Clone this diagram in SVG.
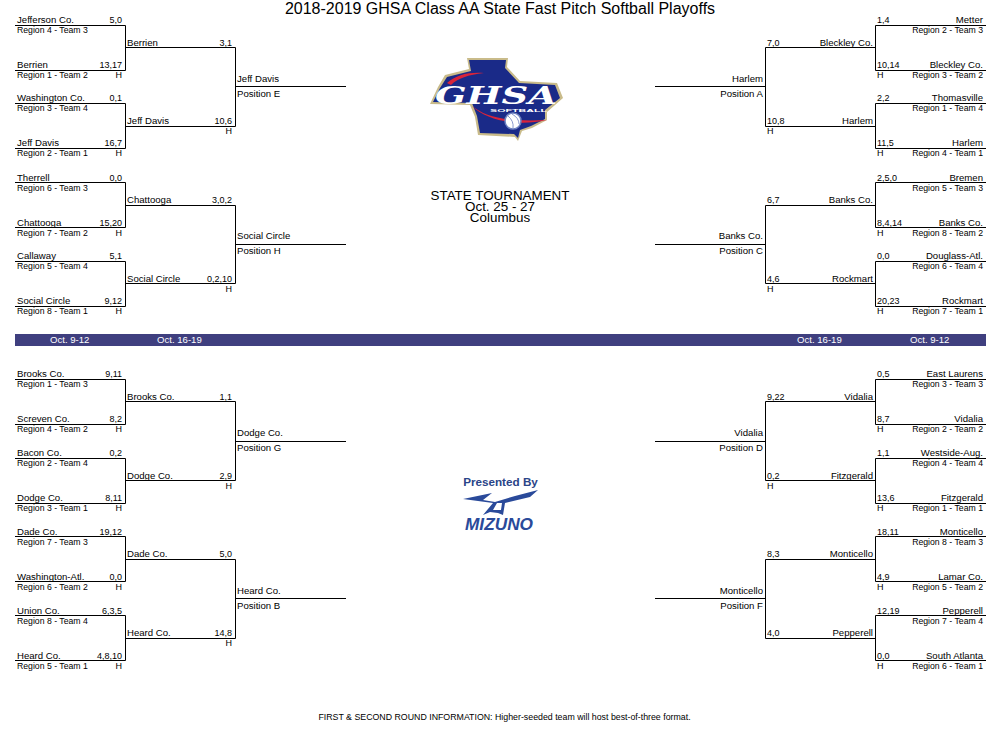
<svg xmlns="http://www.w3.org/2000/svg" width="1000" height="750" viewBox="0 0 1000 750">
<style>
text{font-family:"Liberation Sans",Arial,sans-serif;font-size:9.6px;fill:#000}
.e{text-anchor:end}
.c{text-anchor:middle}
.w{fill:#fff}
.s{font-size:13.4px}
.g{font-size:8.7px}
.v{font-size:9px}
.l{fill:none;stroke:#000;stroke-width:1}
</style>
<rect width="1000" height="750" fill="#fff"/>
<text id="title" x="500" y="14" class="c" style="font-size:16px">2018-2019 GHSA Class AA State Fast Pitch Softball Playoffs</text>
<g id="connectors">
<path class="l" d="M15 25.5H125.5V70.5H15M15 103.5H125.5V148.5H15M125.5 47.5H235.5V126.5H125.5M235.5 86.5H346"/>
<path class="l" d="M15 182.5H125.5V227.5H15M15 261.5H125.5V306.5H15M125.5 205.5H235.5V283.5H125.5M235.5 244.5H346"/>
<path class="l" d="M15 379.5H125.5V424.5H15M15 458.5H125.5V503.5H15M125.5 401.5H235.5V480.5H125.5M235.5 441.5H346"/>
<path class="l" d="M15 536.5H125.5V581.5H15M15 615.5H125.5V660.5H15M125.5 559.5H235.5V638.5H125.5M235.5 598.5H346"/>
<path class="l" d="M986 25.5H875.5V70.5H986M986 103.5H875.5V148.5H986M875.5 47.5H765.5V126.5H875.5M765.5 86.5H655"/>
<path class="l" d="M986 182.5H875.5V227.5H986M986 261.5H875.5V306.5H986M875.5 205.5H765.5V283.5H875.5M765.5 244.5H655"/>
<path class="l" d="M986 379.5H875.5V424.5H986M986 458.5H875.5V503.5H986M875.5 401.5H765.5V480.5H875.5M765.5 441.5H655"/>
<path class="l" d="M986 536.5H875.5V581.5H986M986 615.5H875.5V660.5H986M875.5 559.5H765.5V638.5H875.5M765.5 598.5H655"/>
</g>
<g id="band"><rect x="15" y="334" width="971" height="12" fill="#3f3f7f"/>
<text x="50" y="343" class="w">Oct. 9-12</text><text x="157" y="343" class="w">Oct. 16-19</text><text x="797" y="343" class="w">Oct. 16-19</text><text x="910" y="343" class="w">Oct. 9-12</text></g>
<g id="logo-ghsa">
<polygon points="467,58 508,58 507,67 520,81 557,83 563,98 547,112 547,120 532,128 522,131 518,141 515,137 478,135 475,117 470,105 430,104 438,87 445,75 469,69" fill="#c9bb8a"/>
<polygon points="469,60 506,60 505,68 519,83 555,85 560,98 545,110 545,119 531,126 520,130 518,138 514,134 480,133 477,116 472,103 433,102 440,88 447,77 471,71" fill="#1a2a88"/>
<path d="M447 83C456 75 468 72 484 73C468 75 458 78 451 85Z" fill="#d8243a"/>
<path d="M472 106C486 117 505 122 547 120C520 126 488 122 472 106Z" fill="#d8243a"/>
<text x="435" y="104" textLength="122" lengthAdjust="spacingAndGlyphs" style="font-family:'DejaVu Serif',serif;font-size:24px;font-weight:bold;font-style:italic;fill:#fff">GHSA</text>
<text x="490" y="111.500" textLength="57" lengthAdjust="spacingAndGlyphs" style="font-size:4px;font-weight:bold;fill:#fff">SOFTBALL</text>
<circle cx="513" cy="121" r="8" fill="#fff" stroke="#6f82c0" stroke-width="1.5"/>
<path d="M508 116Q514 121 513 128M512 114Q519 118 519 124" fill="none" stroke="#6f82c0" stroke-width=".8"/>
</g>
<g id="state"><text x="500" y="200" class="c s">STATE TOURNAMENT</text><text x="500" y="211" class="c s">Oct. 25 - 27</text><text x="500" y="222" class="c s">Columbus</text></g>
<g id="logo-mizuno">
<text x="500.500" y="486" class="c" style="font-size:11.7px;font-weight:bold;fill:#2a4488">Presented By</text>
<path d="M463 499L492 493L483 500L495 502L515 496L538 490L530 497L505 503L503 515L498 513L490 512L483 515L493 503ZM497 503L502 503L501 510L493 510Z" fill="#2a4a9a" fill-rule="evenodd"/>
<text x="465" y="530" textLength="68" lengthAdjust="spacingAndGlyphs" style="font-size:16px;font-weight:bold;font-style:italic;fill:#2a4a9a">MIZUNO</text>
</g>
<text id="footer" x="504.500" y="720" class="c" style="font-size:8.8px">FIRST &amp; SECOND ROUND INFORMATION: Higher-seeded team will host best-of-three format.</text>

<g id="l1a"><text x="17" y="23">Jefferson Co.</text><text x="122" y="23" class="e v">5,0</text><text x="17" y="33" class="g">Region 4 - Team 3</text></g>
<g id="l1b"><text x="17" y="68">Berrien</text><text x="122" y="68" class="e v">13,17</text><text x="17" y="78" class="g">Region 1 - Team 2</text><text x="122" y="78" class="e v">H</text></g>
<g id="l1c"><text x="17" y="101">Washington Co.</text><text x="122" y="101" class="e v">0,1</text><text x="17" y="111" class="g">Region 3 - Team 4</text></g>
<g id="l1d"><text x="17" y="146">Jeff Davis</text><text x="122" y="146" class="e v">16,7</text><text x="17" y="156" class="g">Region 2 - Team 1</text><text x="122" y="156" class="e v">H</text></g>
<g id="l2a"><text x="127" y="46">Berrien</text><text x="232" y="46" class="e v">3,1</text></g>
<g id="l2b"><text x="127" y="124">Jeff Davis</text><text x="232" y="124" class="e v">10,6</text><text x="232" y="134" class="e v">H</text></g>
<g id="posE"><text x="237" y="82">Jeff Davis</text><text x="237" y="97">Position E</text></g>

<g id="l3a"><text x="17" y="181">Therrell</text><text x="122" y="181" class="e v">0,0</text><text x="17" y="191" class="g">Region 6 - Team 3</text></g>
<g id="l3b"><text x="17" y="226">Chattooga</text><text x="122" y="226" class="e v">15,20</text><text x="17" y="236" class="g">Region 7 - Team 2</text><text x="122" y="236" class="e v">H</text></g>
<g id="l3c"><text x="17" y="259">Callaway</text><text x="122" y="259" class="e v">5,1</text><text x="17" y="269" class="g">Region 5 - Team 4</text></g>
<g id="l3d"><text x="17" y="304">Social Circle</text><text x="122" y="304" class="e v">9,12</text><text x="17" y="314" class="g">Region 8 - Team 1</text><text x="122" y="314" class="e v">H</text></g>
<g id="l4a"><text x="127" y="203">Chattooga</text><text x="232" y="203" class="e v">3,0,2</text></g>
<g id="l4b"><text x="127" y="282">Social Circle</text><text x="232" y="282" class="e v">0,2,10</text><text x="232" y="292" class="e v">H</text></g>
<g id="posH"><text x="237" y="239">Social Circle</text><text x="237" y="254">Position H</text></g>

<g id="l5a"><text x="17" y="377">Brooks Co.</text><text x="122" y="377" class="e v">9,11</text><text x="17" y="387" class="g">Region 1 - Team 3</text></g>
<g id="l5b"><text x="17" y="422">Screven Co.</text><text x="122" y="422" class="e v">8,2</text><text x="17" y="432" class="g">Region 4 - Team 2</text><text x="122" y="432" class="e v">H</text></g>
<g id="l5c"><text x="17" y="456">Bacon Co.</text><text x="122" y="456" class="e v">0,2</text><text x="17" y="466" class="g">Region 2 - Team 4</text></g>
<g id="l5d"><text x="17" y="501">Dodge Co.</text><text x="122" y="501" class="e v">8,11</text><text x="17" y="511" class="g">Region 3 - Team 1</text><text x="122" y="511" class="e v">H</text></g>
<g id="l6a"><text x="127" y="400">Brooks Co.</text><text x="232" y="400" class="e v">1,1</text></g>
<g id="l6b"><text x="127" y="478.500">Dodge Co.</text><text x="232" y="478.500" class="e v">2,9</text><text x="232" y="489" class="e v">H</text></g>
<g id="posG"><text x="237" y="436">Dodge Co.</text><text x="237" y="451">Position G</text></g>

<g id="l7a"><text x="17" y="535">Dade Co.</text><text x="122" y="535" class="e v">19,12</text><text x="17" y="545" class="g">Region 7 - Team 3</text></g>
<g id="l7b"><text x="17" y="580">Washington-Atl.</text><text x="122" y="580" class="e v">0,0</text><text x="17" y="590" class="g">Region 6 - Team 2</text><text x="122" y="590" class="e v">H</text></g>
<g id="l7c"><text x="17" y="614">Union Co.</text><text x="122" y="614" class="e v">6,3,5</text><text x="17" y="624" class="g">Region 8 - Team 4</text></g>
<g id="l7d"><text x="17" y="659">Heard Co.</text><text x="122" y="659" class="e v">4,8,10</text><text x="17" y="669" class="g">Region 5 - Team 1</text><text x="122" y="669" class="e v">H</text></g>
<g id="l8a"><text x="127" y="557">Dade Co.</text><text x="232" y="557" class="e v">5,0</text></g>
<g id="l8b"><text x="127" y="636">Heard Co.</text><text x="232" y="636" class="e v">14,8</text><text x="232" y="646" class="e v">H</text></g>
<g id="posB"><text x="237" y="594">Heard Co.</text><text x="237" y="609">Position B</text></g>

<g id="r1a"><text x="983" y="23" class="e">Metter</text><text x="877" y="23" class="v">1,4</text><text x="983" y="33" class="e g">Region 2 - Team 3</text></g>
<g id="r1b"><text x="983" y="68" class="e">Bleckley Co.</text><text x="877" y="68" class="v">10,14</text><text x="983" y="78" class="e g">Region 3 - Team 2</text><text x="877" y="78" class="v">H</text></g>
<g id="r1c"><text x="983" y="101" class="e">Thomasville</text><text x="877" y="101" class="v">2,2</text><text x="983" y="111" class="e g">Region 1 - Team 4</text></g>
<g id="r1d"><text x="983" y="146" class="e">Harlem</text><text x="877" y="146" class="v">11,5</text><text x="983" y="156" class="e g">Region 4 - Team 1</text><text x="877" y="156" class="v">H</text></g>
<g id="r2a"><text x="873" y="46" class="e">Bleckley Co.</text><text x="767" y="46" class="v">7,0</text></g>
<g id="r2b"><text x="873" y="124" class="e">Harlem</text><text x="767" y="124" class="v">10,8</text><text x="767" y="134" class="v">H</text></g>
<g id="posA"><text x="763" y="82" class="e">Harlem</text><text x="763" y="97" class="e">Position A</text></g>

<g id="r3a"><text x="983" y="181" class="e">Bremen</text><text x="877" y="181" class="v">2,5,0</text><text x="983" y="191" class="e g">Region 5 - Team 3</text></g>
<g id="r3b"><text x="983" y="226" class="e">Banks Co.</text><text x="877" y="226" class="v">8,4,14</text><text x="983" y="236" class="e g">Region 8 - Team 2</text><text x="877" y="236" class="v">H</text></g>
<g id="r3c"><text x="983" y="259" class="e">Douglass-Atl.</text><text x="877" y="259" class="v">0,0</text><text x="983" y="269" class="e g">Region 6 - Team 4</text></g>
<g id="r3d"><text x="983" y="304" class="e">Rockmart</text><text x="877" y="304" class="v">20,23</text><text x="983" y="314" class="e g">Region 7 - Team 1</text><text x="877" y="314" class="v">H</text></g>
<g id="r4a"><text x="873" y="203" class="e">Banks Co.</text><text x="767" y="203" class="v">6,7</text></g>
<g id="r4b"><text x="873" y="282" class="e">Rockmart</text><text x="767" y="282" class="v">4,6</text><text x="767" y="292" class="v">H</text></g>
<g id="posC"><text x="763" y="239" class="e">Banks Co.</text><text x="763" y="254" class="e">Position C</text></g>

<g id="r5a"><text x="983" y="377" class="e">East Laurens</text><text x="877" y="377" class="v">0,5</text><text x="983" y="387" class="e g">Region 3 - Team 3</text></g>
<g id="r5b"><text x="983" y="422" class="e">Vidalia</text><text x="877" y="422" class="v">8,7</text><text x="983" y="432" class="e g">Region 2 - Team 2</text><text x="877" y="432" class="v">H</text></g>
<g id="r5c"><text x="983" y="456" class="e">Westside-Aug.</text><text x="877" y="456" class="v">1,1</text><text x="983" y="466" class="e g">Region 4 - Team 4</text></g>
<g id="r5d"><text x="983" y="501" class="e">Fitzgerald</text><text x="877" y="501" class="v">13,6</text><text x="983" y="511" class="e g">Region 1 - Team 1</text><text x="877" y="511" class="v">H</text></g>
<g id="r6a"><text x="873" y="400" class="e">Vidalia</text><text x="767" y="400" class="v">9,22</text></g>
<g id="r6b"><text x="873" y="478.500" class="e">Fitzgerald</text><text x="767" y="478.500" class="v">0,2</text><text x="767" y="489" class="v">H</text></g>
<g id="posD"><text x="763" y="436" class="e">Vidalia</text><text x="763" y="451" class="e">Position D</text></g>

<g id="r7a"><text x="983" y="535" class="e">Monticello</text><text x="877" y="535" class="v">18,11</text><text x="983" y="545" class="e g">Region 8 - Team 3</text></g>
<g id="r7b"><text x="983" y="580" class="e">Lamar Co.</text><text x="877" y="580" class="v">4,9</text><text x="983" y="590" class="e g">Region 5 - Team 2</text><text x="877" y="590" class="v">H</text></g>
<g id="r7c"><text x="983" y="614" class="e">Pepperell</text><text x="877" y="614" class="v">12,19</text><text x="983" y="624" class="e g">Region 7 - Team 4</text></g>
<g id="r7d"><text x="983" y="659" class="e">South Atlanta</text><text x="877" y="659" class="v">0,0</text><text x="983" y="669" class="e g">Region 6 - Team 1</text><text x="877" y="669" class="v">H</text></g>
<g id="r8a"><text x="873" y="557" class="e">Monticello</text><text x="767" y="557" class="v">8,3</text></g>
<g id="r8b"><text x="873" y="636" class="e">Pepperell</text><text x="767" y="636" class="v">4,0</text></g>
<g id="posF"><text x="763" y="594" class="e">Monticello</text><text x="763" y="609" class="e">Position F</text></g>
</svg>
